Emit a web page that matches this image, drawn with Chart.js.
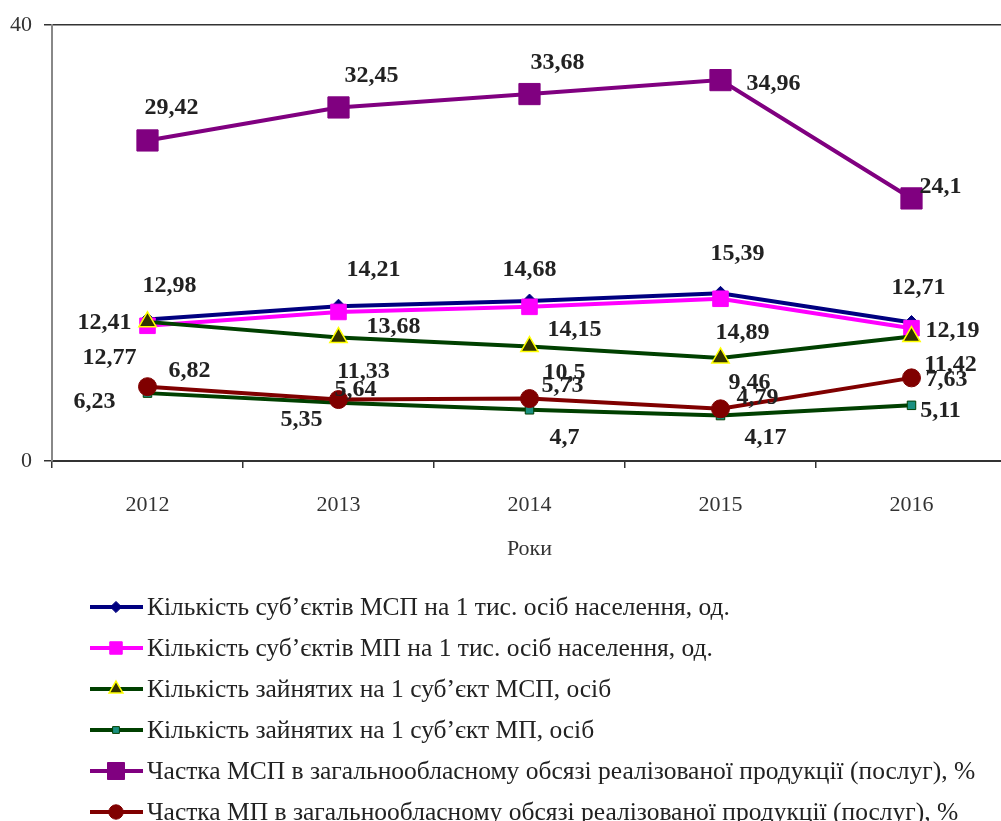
<!DOCTYPE html>
<html>
<head>
<meta charset="utf-8">
<script src="https://cdn.jsdelivr.net/npm/chart.js@4.4.0/dist/chart.umd.min.js"></script>
<style>
  html, body { margin: 0; padding: 0; background: #fff; overflow: hidden; }
  /* plot area runs a little past the right edge of the window, as in the source picture */
  #wrap { width: 1023px; height: 821px; position: relative; }
  canvas { display: block; }
</style>
</head>
<body>
<div id="wrap"><canvas id="smb-chart"></canvas></div>
<script>
const years = ["2012", "2013", "2014", "2015", "2016"];
const msbPer1000 = [12.98, 14.21, 14.68, 15.39, 12.71];
const sbPer1000 = [12.41, 13.68, 14.15, 14.89, 12.19];
const employedPerMsb = [12.77, 11.33, 10.5, 9.46, 11.42];
const employedPerSb = [6.23, 5.35, 4.7, 4.17, 5.11];
const msbShare = [29.42, 32.45, 33.68, 34.96, 24.1];
const sbShare = [6.82, 5.64, 5.73, 4.79, 7.63];
const yTicks = [0, 40];
const seriesNames = [
  "Кількість суб’єктів МСП на 1 тис. осіб населення, од.",
  "Кількість суб’єктів МП на 1 тис. осіб населення, од.",
  "Кількість зайнятих на 1 суб’єкт МСП, осіб",
  "Кількість зайнятих на 1 суб’єкт МП, осіб",
  "Частка МСП в загальнообласному обсязі реалізованої продукції (послуг), %",
  "Частка МП в загальнообласному обсязі реалізованої продукції (послуг), %"
];

// label nudges in px from each point, per series / per year
const labelNudge = [
  [[22, -34], [35, -36], [0, -31], [17, -40], [7, -35]],
  [[-43, -3], [55, 15], [45, 23], [22, 34], [41, 3]],
  [[-38, 36], [25, 34], [35, 26], [29, 25], [39, 28]],
  [[-53, 9], [-37, 17], [35, 28], [45, 22], [29, 5]],
  [[24, -33], [33, -32], [28, -31], [53, 4], [29, -12]],
  [[42, -16], [17, -10], [33, -13], [37, -11], [35, 2]]
];

const serif = "'Liberation Serif', 'Times New Roman', serif";

const styles = [
  { color: "#000080", point: "rectRot", radius: 7, bg: "#000080", border: "#000080", bw: 1 },
  { color: "#ff00ff", point: "rect", radius: 11, bg: "#ff00ff", border: "#ff00ff", bw: 1 },
  { color: "#004000", point: "triangle", radius: 10, bg: "#333300", border: "#ffff00", bw: 1.5 },
  { color: "#004000", point: "rect", radius: 6, bg: "#1a9080", border: "#004000", bw: 1 },
  { color: "#800080", point: "rect", radius: 15, bg: "#800080", border: "#800080", bw: 1 },
  { color: "#800000", point: "circle", radius: 9, bg: "#800000", border: "#800000", bw: 1 }
];

const seriesData = [msbPer1000, sbPer1000, employedPerMsb, employedPerSb, msbShare, sbShare];

const datasets = seriesData.map((d, i) => ({
  label: seriesNames[i],
  data: d,
  borderColor: styles[i].color,
  borderWidth: 4,
  pointStyle: styles[i].point,
  pointRadius: styles[i].radius,
  pointHoverRadius: styles[i].radius,
  pointBackgroundColor: styles[i].bg,
  pointBorderColor: styles[i].border,
  pointBorderWidth: styles[i].bw,
  tension: 0,
  order: seriesData.length - 1 - i
}));

const valueLabels = {
  id: "valueLabels",
  afterDatasetsDraw(chart) {
    const ctx = chart.ctx;
    ctx.save();
    ctx.font = "bold 24px " + serif;
    ctx.fillStyle = "#222";
    ctx.textAlign = "center";
    ctx.textBaseline = "middle";
    chart.data.datasets.forEach((ds, i) => {
      chart.getDatasetMeta(i).data.forEach((pt, j) => {
        const [dx, dy] = labelNudge[i][j];
        ctx.fillText(String(ds.data[j]).replace(".", ","), pt.x + dx, pt.y + dy);
      });
    });
    ctx.restore();
  }
};

const sideLegend = {
  id: "sideLegend",
  afterDraw(chart) {
    const ctx = chart.ctx;
    ctx.save();
    chart.data.datasets.forEach((ds, i) => {
      const y = 607 + i * 41;
      const st = styles[i];
      ctx.strokeStyle = st.color;
      ctx.lineWidth = 4;
      ctx.beginPath();
      ctx.moveTo(90, y);
      ctx.lineTo(143, y);
      ctx.stroke();
      ctx.fillStyle = st.bg;
      ctx.strokeStyle = st.border;
      ctx.lineWidth = st.bw;
      Chart.helpers.drawPoint(ctx, {
        pointStyle: st.point, rotation: 0, radius: st.radius * 0.8, borderWidth: st.bw
      }, 116, y);
      ctx.fillStyle = "#222";
      ctx.font = "25.5px " + serif;
      ctx.textAlign = "left";
      ctx.textBaseline = "middle";
      ctx.fillText(ds.label, 147, y + 1);
    });
    ctx.restore();
  }
};

new Chart("smb-chart", {
  type: "line",
  data: { labels: years, datasets },
  plugins: [valueLabels, sideLegend],
  options: {
    responsive: true,
    maintainAspectRatio: false,
    animation: false,
    layout: { padding: { left: 0, right: 0, top: 25, bottom: 0 } },
    plugins: { legend: { display: false }, tooltip: { enabled: false } },
    scales: {
      x: {
        offset: true,
        grid: { offset: true, drawOnChartArea: false, drawTicks: true, tickLength: 7, color: "#333", lineWidth: 1.5 },
        border: { color: "#333", width: 2 },
        ticks: { color: "#333", font: { family: serif, size: 22 }, padding: 24 },
        title: { display: true, text: "Роки", color: "#333", font: { family: serif, size: 22 }, padding: { top: 0, bottom: 259 } },
        afterFit(scale) {
          scale.height = 360;
          scale.paddingLeft = 0;
          scale.paddingRight = 0;
        }
      },
      y: {
        min: yTicks[0],
        max: yTicks[1],
        afterBuildTicks(scale) { scale.ticks = yTicks.map(v => ({ value: v })); },
        grid: { color: "#333", lineWidth: 1.5, tickLength: 8 },
        border: { color: "#888", width: 2 },
        ticks: { color: "#333", font: { family: serif, size: 22 }, padding: 12 },
        afterFit(scale) { scale.width = 52; }
      }
    }
  }
});
</script>
</body>
</html>
